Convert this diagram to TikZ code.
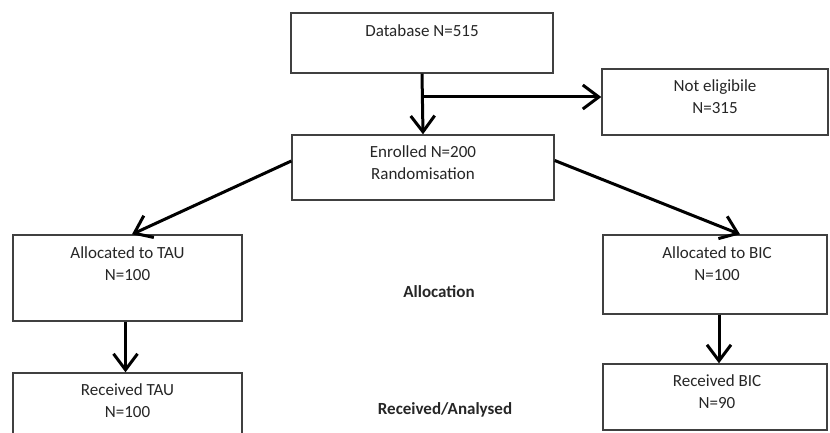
\documentclass[tikz,border=0pt]{standalone}
\usepackage{fontspec}
\setmainfont{Carlito}
\usetikzlibrary{arrows.meta}
\begin{document}
\begin{tikzpicture}[x=1pt,y=-1pt,
  box/.style={draw=black!75, line width=1.4pt, inner sep=0pt, fill=white},
  txt/.style={font=\fontsize{17}{22}\selectfont, text=black!85, align=center, anchor=north, inner sep=0pt},
  phase/.style={font=\fontsize{17}{22}\selectfont\bfseries, text=black!85, inner sep=0pt},
  arr/.style={line width=3pt, black, -{Straight Barb[length=16pt,width=24pt,line width=3pt]}}]
\useasboundingbox (0,0) rectangle (830,433);

% boxes
\node[box, minimum width=262pt, minimum height=60pt] (db)   at (422,43) {};
\node[box, minimum width=226pt, minimum height=66pt] (ne)   at (715,102) {};
\node[box, minimum width=262pt, minimum height=65pt] (enr)  at (423,167.5) {};
\node[box, minimum width=229pt, minimum height=86pt] (tau)  at (127.5,278) {};
\node[box, minimum width=229pt, minimum height=74pt] (rtau) at (127.5,410) {};
\node[box, minimum width=224pt, minimum height=79pt] (bic)  at (715,274.5) {};
\node[box, minimum width=224pt, minimum height=66pt] (rbic) at (715,397) {};

% box texts
\node[txt] (tdb)   at (422,24)   {Database N=515};
\node[txt] (tne)   at (715,79)   {Not eligibile\\N=315};
\node[txt] (tenr)  at (423,145)  {Enrolled N=200\\Randomisation};
\node[txt] (ttau)  at (127.5,246) {Allocated to TAU\\N=100};
\node[txt] (trtau) at (127.5,383) {Received TAU\\N=100};
\node[txt] (tbic)  at (717,246)  {Allocated to BIC\\N=100};
\node[txt] (trbic) at (717,374)  {Received BIC\\N=90};

% phase labels
\node[phase] (lalloc) at (439,292) {Allocation};
\node[phase] (lrec)   at (445,410) {Received/Analysed};

% connectors
\draw[arr] (db.south) -- (enr.north);
\path ([yshift=5pt]ne.west) coordinate (nein);
\coordinate (jn) at (db.south |- nein);
\draw[arr] (jn) -- (nein);
\draw[arr] ([yshift=6.5pt]enr.west) -- ([xshift=4.5pt]tau.north);
\draw[arr] ([yshift=7pt]enr.east) -- ([xshift=25pt]bic.north);
\draw[arr] ([xshift=-2pt]tau.south) -- ([xshift=-2pt]rtau.north);
\draw[arr] ([xshift=4pt]bic.south) -- ([xshift=4pt]rbic.north);
\end{tikzpicture}
\end{document}
